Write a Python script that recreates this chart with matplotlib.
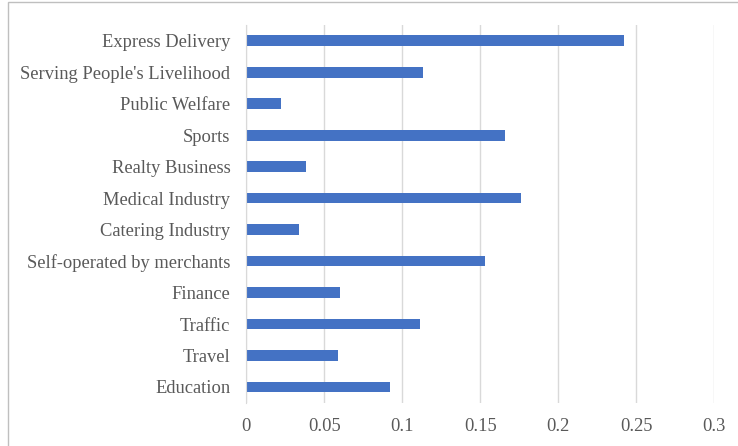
import matplotlib.pyplot as plt
from matplotlib.patches import Rectangle

categories = ["Express Delivery", "Serving People's Livelihood", "Public Welfare",
              "Sports", "Realty Business", "Medical Industry", "Catering Industry",
              "Self-operated by merchants", "Finance", "Traffic", "Travel", "Education"]
values = [0.2423, 0.1131, 0.0224, 0.166, 0.0383, 0.1759, 0.0338,
          0.153, 0.0603, 0.1113, 0.0586, 0.0923]
xticks = [0, 0.05, 0.1, 0.15, 0.2, 0.25, 0.3]
xtick_labels = ["0", "0.05", "0.1", "0.15", "0.2", "0.25", "0.3"]

plt.rcParams['font.family'] = ['Liberation Serif', 'DejaVu Serif']

fig = plt.figure(figsize=(7.38, 4.46), dpi=100)
ax = fig.add_axes([246.3 / 738, 1 - 402.7 / 446, (714.3 - 246.3) / 738, (402.7 - 25) / 446])

# figure border (only top and left visible in the original)
fig.patches.append(Rectangle((8 / 738, -0.1), 1.2, 1 - 2 / 446 + 0.1,
                             transform=fig.transFigure, fill=False,
                             edgecolor='#BFBFBF', linewidth=1.0))

pos = list(range(len(categories)))[::-1]
ax.barh(pos, values, height=0.34, color='#4472C4', zorder=3)

ax.set_xlim(0, 0.3)
ax.set_ylim(-0.5, len(categories) - 0.5)
ax.set_xticks(xticks)
ax.set_xticklabels(xtick_labels)
ax.set_yticks(pos)
ax.set_yticklabels(categories)

ax.grid(axis='x', color='#D9D9D9', linewidth=1.0, zorder=0)
for s in ['top', 'right', 'bottom']:
    ax.spines[s].set_visible(False)
ax.spines['left'].set_color('#D9D9D9')
ax.spines['left'].set_zorder(4)
ax.tick_params(axis='both', length=0, labelsize=13.3, labelcolor='#595959')
ax.tick_params(axis='y', pad=11.5)
ax.tick_params(axis='x', pad=11)

fig.savefig('out.png', dpi=100)
